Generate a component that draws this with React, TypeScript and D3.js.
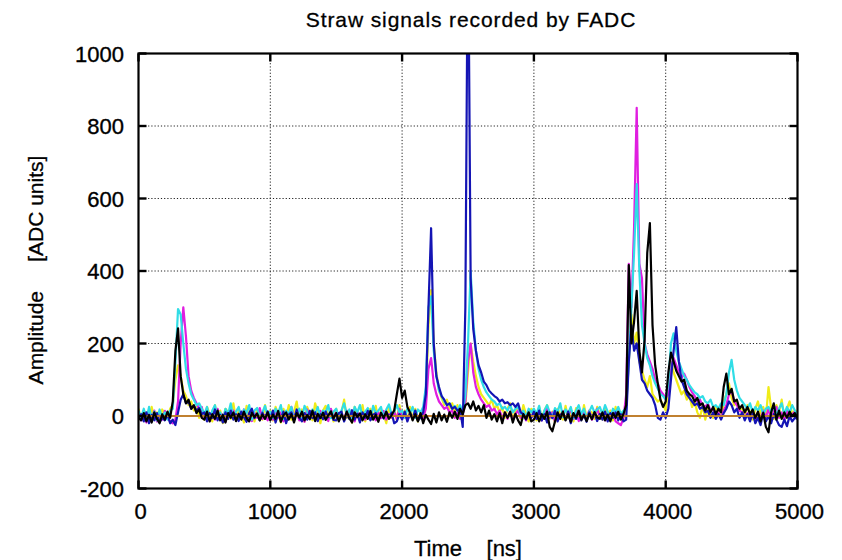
import React from 'react';
import * as d3 from 'd3';

// ---- data (ADC amplitude sampled every 20 ns, 0..5000 ns) ----
const sampleStep = 20;
const xTicks = [0, 1000, 2000, 3000, 4000, 5000];
const yTicks = [-200, 0, 200, 400, 600, 800, 1000];
const chartTitle = 'Straw signals recorded by FADC';
const xLabel = 'Time    [ns]';
const yLabel = 'Amplitude     [ADC units]';

const blackSeries = [
  -5, -12, 8, -15, 3, -18, 10, -8, -20, 5, -10, 12, -5, 40, 180, 242, 110, 60, 35, 45, 20, 30, 8, 18, -5,
  -10, 12, -15, 5, -8, 15, -12, 3, -18, 8, -5, 10, -14, 6, -10, 12, -6, -15, 9, -3, 7, -12, 4, -8, 10,
  -12, 4, -8, 14, -16, 2, 10, -10, 5, -18, 8, -4, 12, -12, 3, -9, 15, -14, 6, -6, 9, -11, 2, 13, -7,
  8, -15, 4, -10, 12, -6, -18, 10, -3, 7, -12, 5, -8, 14, -10, 3, -16, 9, -5, 11, -8, 2, 15, 60, 103,
  50, 70, 25, 10, -12, 5, -15, 8, -20, 3, -10, -22, 6, -18, 10, -12, 4, -16, 10, -5, 12, -8, 20, 5, 30,
  35, 20, 40, 15, 28, 10, 30, -5, 15, -10, 5, -15, 8, -20, 10, -5, 12, -18, 6, -12, -25, 5, -8, 10, -15,
  -10, 8, -15, 5, -8, 12, -30, -42, -15, 10, -8, 12, -12, 5, -16, 8, -5, 14, -10, 3, -14, 6, -9, 11, -4,
  -8, 10, -12, 4, -15, 8, -5, 12, -10, 6, 30, 416, 200, 260, 345, 180, 120, 210, 450, 532, 250, 140, 90, 45, 25,
  40, 120, 175, 150, 125, 110, 95, 100, 70, 60, 55, 40, 50, 30, 35, 15, 30, 10, 25, 5, 20, 10, 80, 117, 60,
  75, 40, 45, 20, 30, 10, 25, 5, 18, -5, 12, -15, 8, -30, -45, 10, 35, -10, 15, -8, 10, -5, 12, 0, 8,
  -5,
];

const blueSeries = [
  -8, 5, -15, 10, -20, 3, -12, 8, -18, -5, -12, 5, -20, -10, -25, 10, 45, 60, 35, 40, 20, 28, 15, 22, 5,
  10, -15, 8, -5, 18, -12, 3, -18, 10, -8, 15, -10, 5, -14, 12, -3, -16, 8, 20, -6, 4, -12, 9, -7, 13,
  -10, 15, -18, 6, -8, 12, -20, 4, 10, -12, 18, -5, -15, 8, -10, 14, -6, 10, -14, 5, -9, 12, -3, 7, -11,
  -12, 8, 12, -15, 4, -8, 16, -10, 6, -18, 10, -5, 14, -12, 3, 8, -10, 5, -7, 12, -4, 9, -20, -15, 5,
  -10, 12, -15, 8, -6, 15, -12, -5, 10, 60, 300, 518, 200, 110, 80, 55, 45, 30, 35, 20, 25, 15, 20, -30, 300,
  1400, 380, 240, 180, 140, 120, 95, 85, 70, 62, 55, 50, 40, 45, 35, 38, 30, 35, 25, 35, 10, 5, -10, 8, -5,
  12, -8, 15, -12, 5, -18, 10, -6, 14, -15, 3, 8, -10, 12, -20, 6, -8, 15, -12, 4, -16, 10, -5, 8, -14,
  6, -10, 12, -15, 8, -5, 10, -12, 5, -15, -10, 150, 250, 180, 200, 150, 100, 90, 70, 60, 50, 30, -5, -10, 10,
  -5, 20, 100, 180, 245, 150, 100, 80, 60, 50, 40, 30, 35, 20, 25, 10, 15, -5, 10, -8, 5, -10, 8, 20, 40,
  30, 10, 20, -5, 10, -12, 5, -15, 8, -20, -5, -25, 10, -15, 0, -20, 5, -10, -25, -30, -10, -28, 0, -15, -5,
  -8,
];

const magentaSeries = [
  10, -12, 5, -18, 12, -8, 15, -15, 6, -10, 14, -6, -15, -20, -10, 40, 200, 300, 220, 110, 70, 50, 35, 20, 25,
  -5, 12, -14, 8, -10, 20, -6, 5, -16, 10, -3, 15, -12, 6, -8, 18, -10, 4, -14, 9, -5, 22, -8, 3, -12,
  8, -10, 15, -5, 10, -15, 6, -8, 25, -3, 12, -12, 5, -16, 18, -6, 10, -10, 3, 14, -8, 6, -14, 20, -4,
  10, -8, 5, -12, 15, -5, 8, -15, 12, -3, 6, -10, 18, -8, 4, -12, 10, -6, 14, -10, 5, -4, 12, -8, 20,
  -5, 10, -12, 6, -8, 14, -10, 5, -6, 20, 130, 160, 90, 60, 40, 30, 20, 25, 10, 15, -5, 10, -8, 5, 40,
  150, 200, 120, 80, 60, 45, 35, 25, 30, 15, 20, 5, 15, -5, 10, -8, 12, -10, 5, 15, -5, 10, -12, 8, -4,
  10, -8, 15, -12, 6, 20, -5, 10, -15, 8, -3, 14, -10, 5, 18, -8, 12, -14, 6, 10, -6, 15, -10, 4, 20,
  -5, 10, -12, 6, -8, 12, -15, -20, -25, -5, 60, 420, 300, 520, 850, 420, 380, 200, 170, 150, 130, 100, 90, 70, 60,
  50, 60, 130, 160, 140, 120, 105, 117, 100, 80, 65, 55, 40, 45, 30, 25, 35, 15, 20, 5, 10, -5, 15, 30, 60,
  70, 40, 30, 15, 10, -5, 8, -10, 5, -12, 10, -8, 15, -5, 20, -10, 12, 25, -5, 10, -12, 15, -8, 5, 12,
  -3,
];

const cyanSeries = [
  15, -5, 20, -10, 25, -8, 12, -12, 18, -5, 10, -10, 15, 20, 150, 295, 280, 200, 130, 90, 60, 45, 30, 35, 20,
  5, 25, -8, 15, 30, -5, 10, -12, 20, 5, 35, -8, 12, 25, -5, 18, 8, 30, -10, 15, 22, -6, 10, 28, 0,
  12, -5, 20, 8, 30, -8, 15, 5, 25, -10, 10, 20, -5, 28, 12, -8, 18, 5, 25, -3, 15, 10, 30, -6, 12,
  20, -5, 15, 35, 5, 18, -8, 25, 10, 30, -5, 12, 22, -10, 28, 8, 15, 25, -5, 18, 32, 5, 12, 30, 10,
  15, -5, 20, 8, 25, -5, 18, 10, 25, 80, 300, 330, 180, 110, 70, 55, 40, 30, 35, 20, 28, 15, 30, 10, 60,
  200, 400, 260, 180, 130, 100, 80, 65, 55, 45, 40, 30, 35, 20, 25, 15, 30, 10, 20, 25, 5, 15, -5, 20, 10,
  20, 5, 28, -8, 15, 30, 10, -5, 22, 12, 35, -3, 18, 8, 25, -6, 15, 30, 5, 20, -8, 12, 28, 10, 18,
  25, 5, 30, 12, -5, 20, 10, 25, 5, 15, 20, 150, 300, 450, 640, 400, 250, 200, 160, 140, 110, 90, 75, 60, 55,
  45, 90, 200, 228, 180, 150, 130, 110, 100, 85, 75, 65, 60, 50, 55, 40, 35, 45, 25, 30, 20, 35, 30, 60, 120,
  155, 100, 70, 50, 40, 30, 20, 35, 10, 25, 15, 30, 5, 20, 25, 10, 30, 0, 20, 35, 5, 25, 10, 30, 15,
  5,
];

const yellowSeries = [
  20, -10, 15, 5, -15, 25, -5, 10, -12, 18, 5, -8, 20, 30, 100, 140, 110, 70, 55, 30, 40, 15, 25, -5, 20,
  -10, 25, 5, -15, 30, -5, 15, -20, 20, 10, -8, 35, -12, 15, 5, -18, 28, -5, 12, -15, 20, 8, -10, 30, -5,
  15, -12, 25, 5, -18, 20, -5, 30, -10, 12, 40, -8, 18, -15, 25, 5, -12, 35, 10, -20, 15, 28, -5, 12, -15,
  20, -8, 10, 45, -5, 15, -18, 25, 5, -10, 30, -15, 12, 20, -8, 28, -12, 15, 5, -20, 25, -5, 18, -10, 30,
  -5, 15, -12, 25, -8, 20, -15, 10, -5, 40, 250, 347, 200, 120, 70, 50, 30, 45, 20, 35, 10, 30, -5, 15, 30,
  120, 200, 150, 110, 80, 60, 50, 40, 30, 45, 20, 30, 10, 25, -5, 20, 35, -10, 15, 25, -8, 30, 5, -15, 20,
  10, -12, 25, -5, 15, 30, -8, 12, -18, 20, 5, -10, 28, -5, 15, -15, 22, 8, -12, 30, -5, 15, 10, -8, 25,
  5, -10, 20, -5, 15, -12, 25, -8, 10, -5, 30, 150, 280, 200, 230, 150, 125, 100, 80, 110, 60, 50, 40, 45, 30,
  15, 80, 150, 120, 100, 80, 60, 70, 45, 55, 25, 40, 10, -5, 30, -10, 20, 5, -5, 25, 10, -8, 40, 60, 90,
  50, 30, 40, 15, 25, -5, 30, 10, -10, 20, 40, 5, 25, -5, 80, 20, -8, 30, 10, 45, -5, 20, 40, 5, 15,
  10,
];

const baselineTimes = [0, 5000];
const baselineValues = [0, 0];

const traces = [
  { name: 'yellow', color: '#f0ec18', values: yellowSeries },
  { name: 'magenta', color: '#e01ee0', values: magentaSeries },
  { name: 'cyan', color: '#30dde6', values: cyanSeries },
  { name: 'blue', color: '#1414b4', values: blueSeries },
  { name: 'black', color: '#000000', values: blackSeries },
];

// ---- layout ----
const W = 842;
const H = 560;
const PL = 138.5, PR = 797.5, PT = 53.5, PB = 488.5;
const FONT = "'Liberation Sans', Arial, Helvetica, sans-serif";

export default function App() {
  const x = d3.scaleLinear().domain([0, 5000]).range([PL, PR]);
  const y = d3.scaleLinear().domain([-200, 1000]).range([PB, PT]);
  const line = d3
    .line<number>()
    .x((_, i) => x(i * sampleStep))
    .y((d) => y(d));
  const baseLine = d3
    .line<number>()
    .x((_, i) => x(baselineTimes[i]))
    .y((d) => y(d));
  const tickLen = 8;

  return (
    <svg
      width={W}
      height={H}
      style={{ position: 'absolute', left: 0, top: 0, background: '#fff' }}
      fontFamily={FONT}
    >
      <defs>
        <clipPath id="plotClip">
          <rect x={PL} y={PT} width={PR - PL} height={PB - PT} />
        </clipPath>
      </defs>
      <rect x={0} y={0} width={W} height={H} fill="#fff" />

      {/* grid */}
      <g stroke="#222" strokeWidth={1} strokeDasharray="1.2,2">
        {xTicks.slice(1, -1).map((t) => (
          <line key={'gx' + t} x1={x(t)} x2={x(t)} y1={PT} y2={PB} />
        ))}
        {yTicks.slice(1, -1).map((t) => (
          <line key={'gy' + t} x1={PL} x2={PR} y1={y(t)} y2={y(t)} />
        ))}
      </g>

      {/* traces */}
      <g clipPath="url(#plotClip)" fill="none" strokeLinejoin="round" strokeWidth={2.2}>
        {traces.slice(0, 4).map((s) => (
          <path key={s.name} d={line(s.values) || ''} stroke={s.color} />
        ))}
        <path d={baseLine(baselineValues) || ''} stroke="#c08030" strokeWidth={2} />
        {traces.slice(4).map((s) => (
          <path key={s.name} d={line(s.values) || ''} stroke={s.color} />
        ))}
      </g>

      {/* ticks */}
      <g stroke="#000" strokeWidth={2.4}>
        {xTicks.map((t) => (
          <g key={'tx' + t}>
            <line x1={x(t)} x2={x(t)} y1={PB} y2={PB - tickLen} />
            <line x1={x(t)} x2={x(t)} y1={PT} y2={PT + tickLen} />
          </g>
        ))}
        {yTicks.map((t) => (
          <g key={'ty' + t}>
            <line x1={PL} x2={PL + tickLen} y1={y(t)} y2={y(t)} />
            <line x1={PR} x2={PR - tickLen} y1={y(t)} y2={y(t)} />
          </g>
        ))}
      </g>

      {/* frame */}
      <rect x={PL} y={PT} width={PR - PL} height={PB - PT} fill="none" stroke="#000" strokeWidth={2.2} />

      {/* tick labels */}
      <g fontSize={22} fill="#000" stroke="#000" strokeWidth={0.35}>
        {xTicks.map((t) => (
          <text key={'lx' + t} x={x(t) + 2} y={519} textAnchor="middle">
            {t}
          </text>
        ))}
        {yTicks.map((t) => (
          <text key={'ly' + t} x={124} y={y(t) + 8} textAnchor="end">
            {t}
          </text>
        ))}
      </g>

      {/* titles */}
      <g fill="#000" stroke="#000" strokeWidth={0.3}>
        <text x={471} y={27} textAnchor="middle" fontSize={21} letterSpacing={0.9}>
          {chartTitle}
        </text>
        <text x={468} y={556} textAnchor="middle" fontSize={22} style={{ whiteSpace: 'pre' }}>
          {xLabel}
        </text>
        <text
          transform={`translate(43, 270) rotate(-90)`}
          textAnchor="middle"
          fontSize={21}
          style={{ whiteSpace: 'pre' }}
        >
          {yLabel}
        </text>
      </g>
    </svg>
  );
}
